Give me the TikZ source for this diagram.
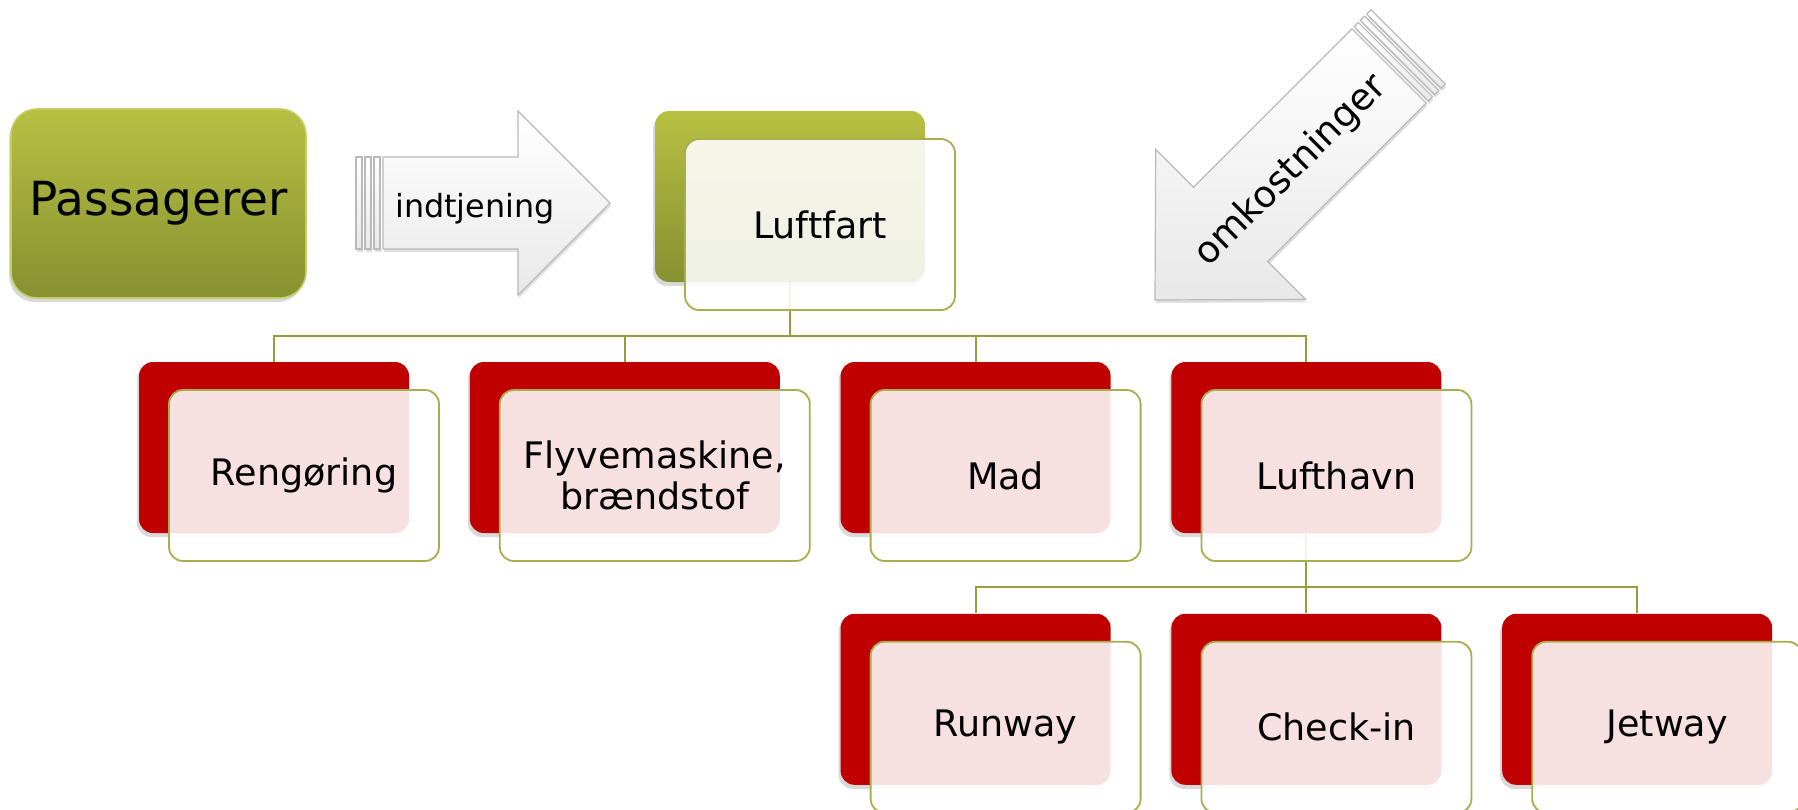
\documentclass[tikz,border=0pt]{standalone}
\usepackage{fontspec}
\setmainfont{DejaVu Sans}
\usepackage{xcolor}
\usepackage{tikz}
\usetikzlibrary{positioning, shadows}

\definecolor{boxred}{RGB}{192,0,0}
\definecolor{olivetop}{RGB}{184,192,66}
\definecolor{olivebot}{RGB}{134,144,48}
\definecolor{oliveline}{RGB}{166,174,78}
\definecolor{linkol}{RGB}{150,158,60}

\begin{document}
\begin{tikzpicture}[x=1pt, y=1pt, node distance=30pt,
  boxfont/.style={font=\fontsize{18.25}{20.5}\selectfont},
  softshadow/.style={drop shadow={shadow xshift=-1pt, shadow yshift=-2pt, opacity=0.3}},
  redback/.style={rectangle, rounded corners=7pt, fill=boxred, minimum width=135pt, minimum height=85.5pt, softshadow},
  oliveback/.style={rectangle, rounded corners=7pt, top color=olivetop, bottom color=olivebot, minimum width=135pt, minimum height=85.5pt, softshadow},
  frontbox/.style={rectangle, rounded corners=7pt, draw=oliveline, line width=0.9pt, fill=white, fill opacity=0.88, text opacity=1, minimum width=135pt, minimum height=85.5pt, align=center, boxfont},
  link/.style={draw=linkol, line width=1pt},
  bararrow/.style={draw=gray!55, line width=0.6pt, top color=white, bottom color=gray!18, drop shadow={shadow xshift=0.5pt, shadow yshift=-1.5pt, opacity=0.25}}]

\useasboundingbox (0,0) rectangle (899,-404.5);

% Source box
\node[oliveback, minimum width=147.5pt, minimum height=94.5pt, rounded corners=13pt, draw=olivetop!80!white, line width=0.8pt, font=\fontsize{23.5}{26}\selectfont] (pass) at (79.25,-101.75) {Passagerer};

% Back boxes
\node[oliveback] (luftB) at (395,-98.25) {};
\node[redback] (rengB) at (137,-223.75) {};
\node[redback, minimum width=155pt, right=of rengB] (flyB) {};
\node[redback, right=of flyB] (madB) {};
\node[redback, right=of madB] (lhB) {};
\node[redback, below=40pt of madB] (runB) {};
\node[redback, right=of runB] (chkB) {};
\node[redback, right=of chkB] (jetB) {};

% Tree lines
\foreach \c in {rengB, flyB, madB, lhB}
  \draw[link] (luftB.south) -- ++(0,-27) -| (\c.north);
\foreach \c in {runB, chkB, jetB}
  \draw[link] (lhB.south) -- ++(0,-27) -| (\c.north);

% Front boxes
\node[frontbox, xshift=15pt, yshift=-14pt] (luft) at (luftB) {Luftfart};
\node[frontbox, xshift=15pt, yshift=-14pt] (reng) at (rengB) {Rengøring};
\node[frontbox, minimum width=155pt, xshift=15pt, yshift=-14pt] (fly) at (flyB) {Flyvemaskine,\\brændstof};
\node[frontbox, xshift=15pt, yshift=-14pt] (mad) at (madB) {Mad};
\node[frontbox, xshift=15pt, yshift=-14pt] (lh) at (lhB) {Lufthavn};
\node[frontbox, xshift=15pt, yshift=-14pt] (run) at (runB) {Runway};
\node[frontbox, xshift=15pt, yshift=-14pt] (chk) at (chkB) {Check-in};
\node[frontbox, xshift=15pt, yshift=-14pt] (jet) at (jetB) {Jetway};

% Income arrow
\path[bararrow] (305,-101.5) -- (259,-55.5) -- (259,-78.5) -- (191.5,-78.5) -- (191.5,-124.5) -- (259,-124.5) -- (259,-147.5) -- cycle;
\foreach \s in {187, 182.5, 178}
  \path[bararrow] (\s,-78.5) rectangle ++(3,-46);
\node[font=\fontsize{15.9}{18}\selectfont] (earn) at (237.5,-104.5) {indtjening};

% Cost arrow
\begin{scope}[shift={(577.5,-150)}, rotate=45]
  \path[bararrow] (0,0) -- (53.5,53) -- (53.5,26.25) -- (165.5,26.25) -- (165.5,-26.25) -- (53.5,-26.25) -- (53.5,-53) -- cycle;
  \foreach \s in {167, 171.5, 176}
    \path[bararrow] (\s,26.25) rectangle ++(3,-52.5);
\end{scope}
\node[rotate=45, font=\fontsize{18.5}{21}\selectfont] (cost) at (645.5,-85.5) {omkostninger};

\end{tikzpicture}
\end{document}
